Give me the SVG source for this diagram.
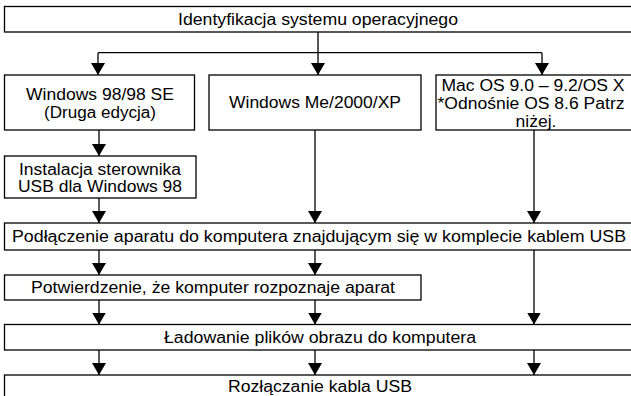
<svg xmlns="http://www.w3.org/2000/svg" width="631" height="396" viewBox="0 0 631 396">
<defs>
<style>
.box{fill:#fff;stroke:#000;stroke-width:1.3}
.t{font-family:"Liberation Sans",Arial,sans-serif;font-size:16px;fill:#000;text-anchor:middle}
.c{fill:none;stroke:#000;stroke-width:1.3}
</style>
<marker id="ah" viewBox="0 0 12 14" refX="12" refY="7" markerWidth="12" markerHeight="14" markerUnits="userSpaceOnUse" orient="auto">
<path d="M0,0 L12,7 L0,14 z" fill="#000"/>
</marker>
</defs>
<rect width="631" height="396" fill="#fff"/>
<g id="connectors">
<path class="c" d="M318,32 V52.7 M98,52.7 H542"/>
<path class="c" d="M98,52.7 V75" marker-end="url(#ah)"/>
<path class="c" d="M318,52.7 V75" marker-end="url(#ah)"/>
<path class="c" d="M542,52.7 V75" marker-end="url(#ah)"/>
<path class="c" d="M99,130 V156" marker-end="url(#ah)"/>
<path class="c" d="M99,198 V223" marker-end="url(#ah)"/>
<path class="c" d="M315,130 V223" marker-end="url(#ah)"/>
<path class="c" d="M534,130 V223" marker-end="url(#ah)"/>
<path class="c" d="M99,250 V275" marker-end="url(#ah)"/>
<path class="c" d="M315,250 V275" marker-end="url(#ah)"/>
<path class="c" d="M534,250 V324.5" marker-end="url(#ah)"/>
<path class="c" d="M99,300 V324.5" marker-end="url(#ah)"/>
<path class="c" d="M315,300 V324.5" marker-end="url(#ah)"/>
<path class="c" d="M99,350 V375" marker-end="url(#ah)"/>
<path class="c" d="M315,350 V375" marker-end="url(#ah)"/>
<path class="c" d="M534,350 V375" marker-end="url(#ah)"/>
</g>
<g id="n-ident">
<rect class="box" x="4.5" y="6.5" width="640" height="25.5"/>
<text class="t" x="318" y="25" textLength="280" lengthAdjust="spacingAndGlyphs">Identyfikacja systemu operacyjnego</text>
</g>
<g id="n-win98">
<rect class="box" x="4.5" y="75" width="190" height="55"/>
<text class="t" x="100" y="99.5" textLength="148" lengthAdjust="spacingAndGlyphs">Windows 98/98 SE</text>
<text class="t" x="100" y="117.5" textLength="112" lengthAdjust="spacingAndGlyphs">(Druga edycja)</text>
</g>
<g id="n-winme">
<rect class="box" x="209" y="75" width="212" height="55"/>
<text class="t" x="315" y="108" textLength="172" lengthAdjust="spacingAndGlyphs">Windows Me/2000/XP</text>
</g>
<g id="n-mac">
<rect class="box" x="436" y="75" width="210" height="55"/>
<text class="t" x="533" y="91" textLength="183" lengthAdjust="spacingAndGlyphs">Mac OS 9.0 – 9.2/OS X</text>
<text class="t" x="531" y="109" textLength="187" lengthAdjust="spacingAndGlyphs">*Odnośnie OS 8.6 Patrz</text>
<text class="t" x="536" y="126.5" textLength="41" lengthAdjust="spacingAndGlyphs">niżej.</text>
</g>
<g id="n-install">
<rect class="box" x="4.5" y="156" width="191.5" height="42"/>
<text class="t" x="100" y="174.5" textLength="162" lengthAdjust="spacingAndGlyphs">Instalacja sterownika</text>
<text class="t" x="100" y="192" textLength="164" lengthAdjust="spacingAndGlyphs">USB dla Windows 98</text>
</g>
<g id="n-connect">
<rect class="box" x="4.5" y="223" width="640" height="27"/>
<text class="t" x="319" y="242" textLength="614" lengthAdjust="spacingAndGlyphs">Podłączenie aparatu do komputera znajdującym się w komplecie kablem USB</text>
</g>
<g id="n-confirm">
<rect class="box" x="4.5" y="275" width="416.5" height="25"/>
<text class="t" x="213" y="293" textLength="364" lengthAdjust="spacingAndGlyphs">Potwierdzenie, że komputer rozpoznaje aparat</text>
</g>
<g id="n-load">
<rect class="box" x="4.5" y="324.5" width="640" height="25.5"/>
<text class="t" x="320" y="343" textLength="312" lengthAdjust="spacingAndGlyphs">Ładowanie plików obrazu do komputera</text>
</g>
<g id="n-disconnect">
<rect class="box" x="4.5" y="375" width="640" height="30"/>
<text class="t" x="320" y="392" textLength="184" lengthAdjust="spacingAndGlyphs">Rozłączanie kabla USB</text>
</g>
</svg>
